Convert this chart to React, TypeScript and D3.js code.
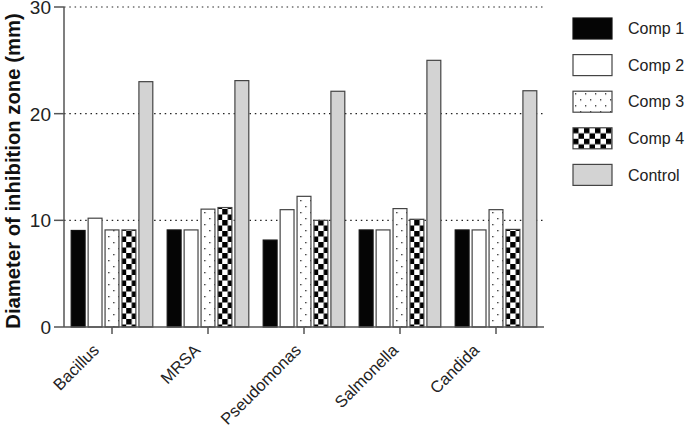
import React from "react";
import * as d3 from "d3";

const categories = ["Bacillus", "MRSA", "Pseudomonas", "Salmonella", "Candida"];
const seriesNames = ["Comp 1", "Comp 2", "Comp 3", "Comp 4", "Control"];
const comp1 = [9.05, 9.1, 8.15, 9.1, 9.1];
const comp2 = [10.2, 9.1, 11.0, 9.1, 9.1];
const comp3 = [9.1, 11.05, 12.25, 11.1, 11.0];
const comp4 = [9.1, 11.2, 10.0, 10.1, 9.15];
const control = [23.0, 23.1, 22.1, 25.0, 22.15];
const yTicks = [0, 10, 20, 30];

// layout-only: horizontal nudge of each rotated category label
const labelNudge = [-20, -15, -10, -9, -24];

const seriesValues = [comp1, comp2, comp3, comp4, control];
const fills = ["#050505", "#ffffff", "url(#dots)", "url(#checker)", "#d3d3d3"];

const W = 685, H = 429;
const left = 64, right = 544, top = 7, bottom = 327;

export default function App() {
  const x0 = d3.scaleBand<string>().domain(categories).range([left, right]).paddingInner(0.15).paddingOuter(0.075);
  const x1 = d3.scaleBand<string>().domain(seriesNames).range([0, x0.bandwidth()]).paddingInner(0.18).paddingOuter(0);
  const y = d3.scaleLinear().domain([0, 30]).range([bottom, top]);
  const font = "Liberation Sans, Arial, Helvetica, sans-serif";
  const axisColor = "#555";

  return (
    <svg width={W} height={H} style={{ position: "absolute", left: 0, top: 0 }} fontFamily={font}>
      <defs>
        <pattern id="dots" patternUnits="userSpaceOnUse" width={10} height={12}>
          <rect width={10} height={12} fill="#fff" />
          <rect x={2} y={2} width={1.3} height={1.3} fill="#222" />
          <rect x={7} y={8} width={1.3} height={1.3} fill="#222" />
        </pattern>
        <pattern id="checker" patternUnits="userSpaceOnUse" width={11} height={11}>
          <rect width={11} height={11} fill="#fff" />
          <rect x={0} y={0} width={5.5} height={5.5} fill="#000" />
          <rect x={5.5} y={5.5} width={5.5} height={5.5} fill="#000" />
        </pattern>
      </defs>

      {/* gridlines */}
      {yTicks.filter((t) => t > 0).map((t) => (
        <line key={t} x1={left} x2={right} y1={y(t)} y2={y(t)} stroke="#222" strokeWidth={1.2} strokeDasharray="1.5,3.8" />
      ))}

      {/* bars */}
      {categories.map((c, ci) => (
        <g key={c} transform={`translate(${x0(c)},0)`}>
          {seriesNames.map((s, si) => {
            const v = seriesValues[si][ci];
            return (
              <rect key={s} x={x1(s)} y={y(v)} width={x1.bandwidth()} height={y(0) - y(v)}
                fill={fills[si]} stroke={si === 0 ? "#111" : "#444"} strokeWidth={1.2} />
            );
          })}
        </g>
      ))}

      {/* y axis */}
      <line x1={left} x2={left} y1={top} y2={bottom} stroke={axisColor} strokeWidth={1.5} />
      {yTicks.map((t) => (
        <g key={t}>
          <line x1={left - 10} x2={left} y1={y(t)} y2={y(t)} stroke={axisColor} strokeWidth={1.5} />
          <text x={left - 13} y={y(t)} dy="0.36em" textAnchor="end" fontSize={19} fill="#222">{t}</text>
        </g>
      ))}
      <text transform={`translate(20,171) rotate(-90)`} textAnchor="middle" fontSize={20.3} fontWeight="bold" fill="#111">
        Diameter of inhibition zone (mm)
      </text>

      {/* x axis */}
      <line x1={left} x2={right} y1={bottom} y2={bottom} stroke={axisColor} strokeWidth={1.5} />
      {categories.map((c, i) => {
        const cx = (x0(c) as number) + x0.bandwidth() / 2;
        return (
          <g key={c}>
            <line x1={cx} x2={cx} y1={bottom} y2={bottom + 7} stroke={axisColor} strokeWidth={1.5} />
            <text transform={`translate(${cx + labelNudge[i]},${bottom + 16}) rotate(-45)`} textAnchor="end" dy="0.7em" fontSize={16.5} fill="#222">{c}</text>
          </g>
        );
      })}

      {/* legend */}
      {seriesNames.map((s, i) => (
        <g key={s} transform={`translate(573,${18 + i * 36.6})`}>
          <rect x={0} y={0} width={39} height={21} fill={fills[i]} stroke={i === 0 ? "#111" : "#444"} strokeWidth={1.2} />
          <text x={55} y={10.5} dy="0.36em" fontSize={16} fill="#222">{s}</text>
        </g>
      ))}
    </svg>
  );
}
